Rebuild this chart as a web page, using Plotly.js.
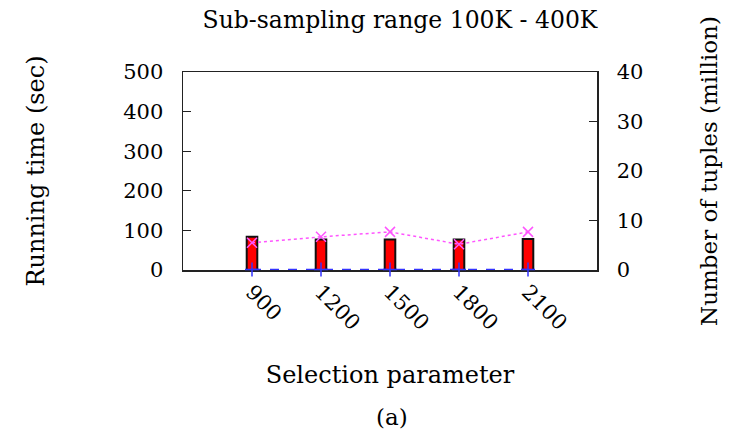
<!DOCTYPE html>
<html>
<head>
<meta charset="utf-8">
<script src="https://cdn.plot.ly/plotly-3.0.1.min.js"></script>
<style>body{margin:0;background:#fff}</style>
</head>
<body>
<div id="chart" style="width:738px;height:442px;"></div>
<script>
const selectionParam = [900, 1200, 1500, 1800, 2100];
const tickLabels = ["900", "1200", "1500", "1800", "2100"];
const runningTime = [84, 77, 77, 77, 78];
const tuplesMagenta = [5.5, 6.7, 7.7, 5.2, 7.7];
const tuplesBlue = [0.08, 0.08, 0.08, 0.08, 0.08];

const F = "DejaVu Serif, serif";

const traces = [
  {
    type: "bar", x: selectionParam, y: runningTime, yaxis: "y", width: 46,
    marker: {color: "#ff0000", line: {color: "#111111", width: 2}},
    showlegend: false, hoverinfo: "skip"
  },
  {
    type: "scatter", mode: "lines+markers", x: selectionParam, y: tuplesMagenta, yaxis: "y2",
    line: {color: "#ff55ff", dash: "dot", width: 1.5},
    marker: {symbol: "x-thin-open", size: 10, color: "#ff55ff", line: {color: "#ff55ff", width: 1.5}},
    showlegend: false, cliponaxis: false
  },
  {
    type: "scatter", mode: "lines+markers", x: selectionParam, y: tuplesBlue, yaxis: "y2",
    line: {color: "#3333ff", dash: "dash", width: 1.5},
    marker: {symbol: "cross-thin-open", size: 10, color: "#3333ff", line: {color: "#3333ff", width: 1.5}},
    showlegend: false, cliponaxis: false
  }
];

const layout = {
  width: 738, height: 442,
  margin: {l: 183, r: 141, t: 72, b: 172},
  paper_bgcolor: "#ffffff", plot_bgcolor: "#ffffff",
  font: {family: F, color: "#000000", size: 21},
  title: {text: "Sub-sampling range 100K - 400K", font: {family: F, size: 23.5}, x: 0.542, xanchor: "center", y: 0.955, yanchor: "middle"},
  xaxis: {
    range: [600, 2400], tickvals: selectionParam, ticktext: tickLabels, tickangle: 45,
    showgrid: false, zeroline: false, showline: true, linecolor: "#222", linewidth: 1.5, mirror: true,
    ticks: "", tickfont: {family: F, size: 21}, layer: "below traces",
    title: {text: "Selection parameter", font: {family: F, size: 24}, standoff: 32}
  },
  yaxis: {
    range: [0, 500], tickvals: [0, 100, 200, 300, 400, 500], showgrid: false, zeroline: false,
    showline: true, linecolor: "#222", linewidth: 1.5, ticks: "inside", ticklen: 8, tickcolor: "#222",
    tickfont: {family: F, size: 21}, ticklabelstandoff: 14,
    title: {text: "Running time (sec)", font: {family: F, size: 24}, standoff: 72}
  },
  yaxis2: {
    range: [0, 40], tickvals: [0, 10, 20, 30, 40], overlaying: "y", side: "right", showgrid: false, zeroline: false,
    showline: true, linecolor: "#222", linewidth: 1.5, ticks: "inside", ticklen: 8, tickcolor: "#222",
    tickfont: {family: F, size: 21}, ticklabelstandoff: 14,
    title: {text: "Number of tuples (million)", font: {family: F, size: 23}, standoff: 58}
  },
  annotations: [
    {text: "(a)", xref: "paper", yref: "paper", x: 0.505, y: -0.74, xanchor: "center", yanchor: "middle", showarrow: false, font: {family: F, size: 23}}
  ]
};

Plotly.newPlot("chart", traces, layout, {staticPlot: true, displayModeBar: false});
</script>
</body>
</html>
